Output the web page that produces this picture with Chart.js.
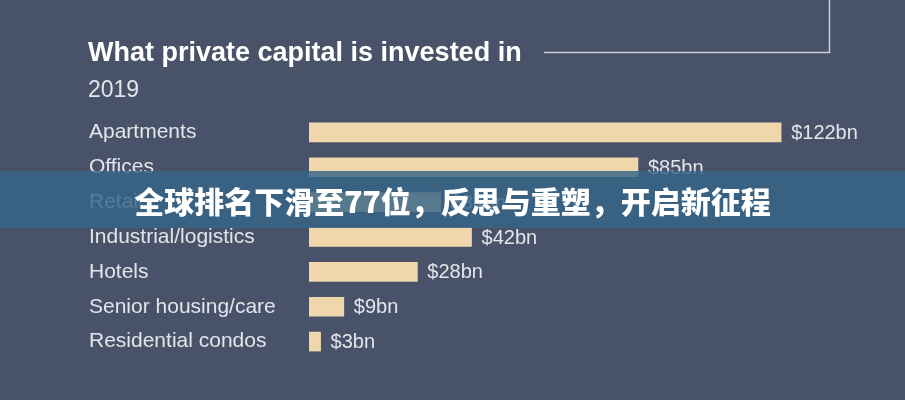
<!DOCTYPE html>
<html>
<head>
<meta charset="utf-8">
<script src="https://cdn.jsdelivr.net/npm/chart.js@4.4.1/dist/chart.umd.min.js"></script>
<style>
  html, body { margin: 0; padding: 0; background: #485369; }
  #wrap { position: relative; width: 905px; height: 400px; overflow: hidden; background: #485369; }
  #c { position: absolute; left: 0; top: 0; }
  #banner {
    position: absolute; left: 0; top: 171px; width: 905px; height: 57px;
    background: rgba(52, 100, 136, 0.82);
    display: flex; align-items: center; justify-content: center;
    color: #ffffff; font-family: "Noto Sans CJK SC", sans-serif; font-weight: 900;
    font-size: 30px; letter-spacing: 0px; padding-top: 1px; box-sizing: border-box;
  }
</style>
</head>
<body>
<div id="wrap">
  <canvas id="c" width="905" height="400"></canvas>
  <div id="banner">全球排名下滑至77位，反思与重塑，开启新征程</div>
</div>
<script>
const titleText = "What private capital is invested in";
const subtitleText = "2019";
const categories = ["Apartments", "Offices", "Retail", "Industrial/logistics", "Hotels", "Senior housing/care", "Residential condos"];
const values = [122, 85, 34, 42, 28, 9, 3];
const valueLabels = ["$122bn", "$85bn", "$34bn", "$42bn", "$28bn", "$9bn", "$3bn"];

const textColor = "#e3e5ea";
const barColor = "#efd7ab";

const decor = {
  id: "decor",
  afterDraw(chart) {
    const ctx = chart.ctx;
    ctx.save();
    // title
    ctx.fillStyle = "#ffffff";
    ctx.font = "bold 27px 'Liberation Sans', Arial, sans-serif";
    ctx.textAlign = "left";
    ctx.textBaseline = "alphabetic";
    ctx.fillText(titleText, 88, 61);
    // subtitle
    ctx.fillStyle = textColor;
    ctx.font = "23px 'Liberation Sans', Arial, sans-serif";
    ctx.fillText(subtitleText, 88, 97);
    // corner line
    ctx.strokeStyle = "#c9cdd5";
    ctx.lineWidth = 1.5;
    ctx.beginPath();
    ctx.moveTo(544, 52.5);
    ctx.lineTo(829.5, 52.5);
    ctx.lineTo(829.5, 0);
    ctx.stroke();
    // value labels
    const meta = chart.getDatasetMeta(0);
    ctx.fillStyle = textColor;
    ctx.font = "20px 'Liberation Sans', Arial, sans-serif";
    ctx.textBaseline = "middle";
    meta.data.forEach((bar, i) => {
      ctx.fillText(valueLabels[i], bar.x + 10, bar.y + 1);
    });
    ctx.restore();
  }
};

new Chart(document.getElementById("c"), {
  type: "bar",
  data: {
    labels: categories,
    datasets: [{
      data: values,
      backgroundColor: barColor,
      borderWidth: 0,
      barThickness: 19
    }]
  },
  options: {
    indexAxis: "y",
    responsive: false,
    animation: false,
    devicePixelRatio: 1,
    layout: { padding: { left: 89, top: 115, bottom: 41, right: 120 } },
    plugins: { legend: { display: false }, tooltip: { enabled: false }, title: { display: false } },
    scales: {
      x: { display: false, min: 0, max: 123 },
      y: {
        grid: { display: false, drawTicks: false },
        border: { display: false },
        ticks: {
          crossAlign: "far",
          padding: 0,
          color: textColor,
          font: { family: "'Liberation Sans', Arial, sans-serif", size: 21 }
        },
        afterFit(scale) { scale.width = 220; }
      }
    }
  },
  plugins: [decor]
});
</script>
</body>
</html>
